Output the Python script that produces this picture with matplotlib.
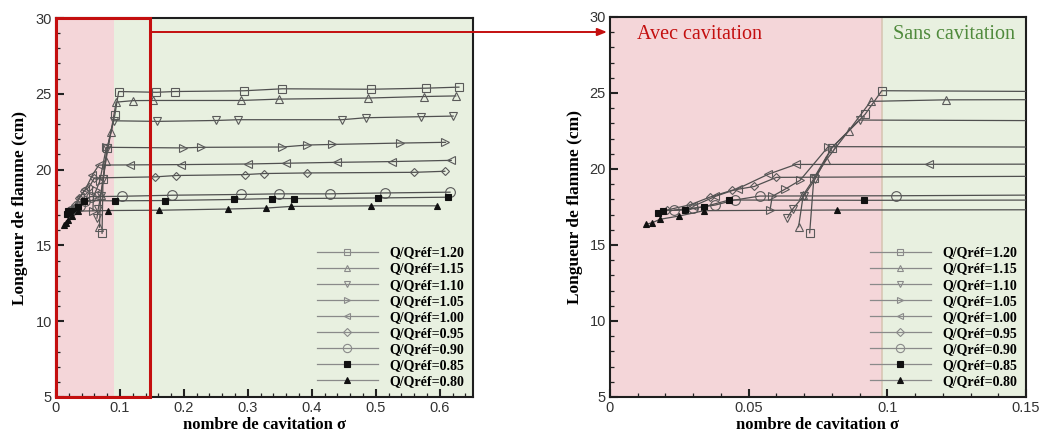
import matplotlib
matplotlib.use('Agg')
import matplotlib.pyplot as plt
from matplotlib.patches import Rectangle
from matplotlib.lines import Line2D
from matplotlib.ticker import MultipleLocator
from matplotlib.font_manager import FontProperties

# ---------------- data ----------------
labels = ['Q/Qréf=1.20', 'Q/Qréf=1.15', 'Q/Qréf=1.10', 'Q/Qréf=1.05', 'Q/Qréf=1.00',
          'Q/Qréf=0.95', 'Q/Qréf=0.90', 'Q/Qréf=0.85', 'Q/Qréf=0.80']

s120 = [0.072, 0.0735, 0.080, 0.092, 0.098, 0.157, 0.186, 0.294, 0.354, 0.492, 0.578, 0.630]
L120 = [15.8, 19.4, 21.4, 23.6, 25.15, 25.1, 25.15, 25.2, 25.33, 25.3, 25.37, 25.44]

s115 = [0.068, 0.0697, 0.078, 0.086, 0.094, 0.121, 0.152, 0.289, 0.349, 0.488, 0.575, 0.625]
L115 = [16.2, 18.3, 20.6, 22.5, 24.45, 24.55, 24.56, 24.56, 24.65, 24.72, 24.82, 24.86]

s110 = [0.064, 0.066, 0.070, 0.074, 0.080, 0.090, 0.158, 0.250, 0.285, 0.447, 0.484, 0.570, 0.621]
L110 = [16.8, 17.4, 18.25, 19.35, 21.4, 23.22, 23.18, 23.24, 23.29, 23.29, 23.42, 23.49, 23.53]

s105 = [0.0577, 0.0585, 0.063, 0.0685, 0.0787, 0.198, 0.227, 0.354, 0.392, 0.432, 0.5375, 0.609]
L105 = [17.3, 18.2, 18.66, 19.25, 21.47, 21.43, 21.47, 21.49, 21.62, 21.66, 21.75, 21.80]

s100 = [0.030, 0.038, 0.046, 0.057, 0.067, 0.115, 0.195, 0.3005, 0.360, 0.44, 0.526, 0.618]
L100 = [17.55, 18.2, 18.7, 19.65, 20.3, 20.31, 20.33, 20.37, 20.42, 20.48, 20.53, 20.61]

s095 = [0.0205, 0.029, 0.036, 0.044, 0.052, 0.060, 0.155, 0.1875, 0.295, 0.325, 0.393, 0.56, 0.608]
L095 = [17.3, 17.65, 18.15, 18.6, 18.85, 19.45, 19.52, 19.61, 19.67, 19.74, 19.78, 19.82, 19.89]

s090 = [0.0232, 0.030, 0.038, 0.045, 0.054, 0.103, 0.182, 0.2885, 0.348, 0.428, 0.5145, 0.616]
L090 = [17.3, 17.42, 17.63, 17.96, 18.22, 18.24, 18.31, 18.36, 18.40, 18.40, 18.46, 18.51]

s085 = [0.0174, 0.019, 0.027, 0.034, 0.043, 0.0917, 0.170, 0.278, 0.338, 0.372, 0.5036, 0.613]
L085 = [17.09, 17.26, 17.30, 17.52, 17.96, 17.94, 17.96, 18.03, 18.09, 18.09, 18.13, 18.18]

s080 = [0.013, 0.0153, 0.018, 0.025, 0.034, 0.0818, 0.161, 0.269, 0.328, 0.367, 0.493, 0.595]
L080 = [16.36, 16.47, 16.69, 16.91, 17.26, 17.30, 17.32, 17.40, 17.46, 17.57, 17.61, 17.61]

xs = [s120, s115, s110, s105, s100, s095, s090, s085, s080]
ys = [L120, L115, L110, L105, L100, L095, L090, L085, L080]

# ---------------- styles ----------------
markers = ['s', '^', 'v', '>', '<', 'D', 'o', 's', '^']
filled = [False] * 7 + [True, True]
msizes = [5.5, 5.5, 5.5, 5.5, 5.5, 4.5, 7.0, 5.0, 5.0]

pink = '#f4d6d9'
green = '#e8f0e0'
red = '#c40f0f'
line_col = '#505050'
serif = 'Liberation Serif'
sans = 'Liberation Sans'

W, H = 1040, 432
fig = plt.figure(figsize=(W / 100, H / 100), dpi=100)
ax1 = fig.add_axes([56 / W, 1 - 397 / H, 417 / W, 379 / H])
ax2 = fig.add_axes([610 / W, 1 - 397 / H, 416 / W, 380 / H])

for ax in (ax1, ax2):
    for s, L, m, f, ms in zip(xs, ys, markers, filled, msizes):
        ax.plot(s, L, color=line_col, lw=0.9, marker=m, ms=ms,
                mfc=('#111111' if f else 'none'),
                mec=('#111111' if f else '#5a5a5a'), mew=0.8, zorder=3)
    ax.set_ylim(5, 30)
    ax.yaxis.set_major_locator(MultipleLocator(5))
    ax.yaxis.set_minor_locator(MultipleLocator(1))
    ax.tick_params(which='major', direction='in', length=6, width=1.5,
                   top=False, right=False, labelsize=10.5, labelcolor='#333333',
                   color='#222222', pad=3)
    ax.tick_params(which='minor', direction='in', length=3, width=0.9,
                   top=False, right=False, color='#222222')
    for sp in ax.spines.values():
        sp.set_linewidth(1.5)
        sp.set_color('#1e1e1e')
    ax.set_ylabel('Longueur de flamme (cm)', family=serif, weight='bold', fontsize=12.5)
    ax.set_xlabel('nombre de cavitation σ', family=serif, weight='bold', fontsize=12)
    ax.xaxis.set_label_coords(0.5, -0.053)

# left panel
ax1.set_xlim(0, 0.652)
ax1.xaxis.set_minor_locator(MultipleLocator(0.02))
ax1.set_xticks([0, 0.1, 0.2, 0.3, 0.4, 0.5, 0.6])
ax1.set_xticklabels(['0', '0.1', '0.2', '0.3', '0.4', '0.5', '0.6'], family=sans)
ax1.set_yticks([5, 10, 15, 20, 25, 30])
ax1.set_yticklabels(['5', '10', '15', '20', '25', '30'], family=sans)
ax1.axvspan(0, 0.09, color=pink, zorder=0, lw=0)
ax1.axvspan(0.09, 0.652, color=green, zorder=0, lw=0)
ax1.yaxis.set_label_coords(-0.068, 0.5)
ax1.add_patch(Rectangle((0, 5), 0.147, 25, fill=False, ec=red, lw=2.2,
                        clip_on=False, zorder=6))

# right panel
ax2.set_xlim(0, 0.15)
ax2.set_xticks([0, 0.05, 0.1, 0.15])
ax2.set_xticklabels(['0', '0.05', '0.1', '0.15'], family=sans)
ax2.xaxis.set_minor_locator(MultipleLocator(0.01))
ax2.set_yticks([5, 10, 15, 20, 25, 30])
ax2.set_yticklabels(['5', '10', '15', '20', '25', '30'], family=sans)
ax2.axvspan(0, 0.098, color=pink, zorder=0, lw=0)
ax2.axvspan(0.098, 0.15, color=green, zorder=0, lw=0)
ax2.axvline(0.098, color='#d8c6b4', lw=1.2, zorder=0.5)
ax2.yaxis.set_label_coords(-0.066, 0.5)
ax2.text(0.0096, 28.82, 'Avec cavitation', color=red, family=serif, fontsize=14.5,
         va='center', ha='left', zorder=7)
ax2.text(0.1020, 28.82, 'Sans cavitation', color='#4f8a3c', family=serif, fontsize=14.5,
         va='center', ha='left', zorder=7)

# legends
handles = []
for m, f, ms in zip(markers, filled, msizes):
    handles.append(Line2D([], [], color='#8a8a8a', lw=0.9, marker=m, ms=ms * 0.85,
                          mfc=('#111111' if f else 'none'),
                          mec=('#111111' if f else '#8a8a8a'), mew=0.8))
lp = FontProperties(family=serif, weight='bold', size=10)
for ax in (ax1, ax2):
    ax.legend(handles, labels, loc='lower right', frameon=False, prop=lp,
              handlelength=4.4, handletextpad=0.8, labelspacing=0.22,
              borderaxespad=0.25, borderpad=0.4)

# red arrow linking the zoom box to the right panel
ax1.annotate('', xy=(607, H - 32), xycoords='figure pixels',
             xytext=(150, H - 32), textcoords='figure pixels',
             arrowprops=dict(arrowstyle='-|>,head_length=0.55,head_width=0.22',
                             color=red, lw=1.4, shrinkA=0, shrinkB=0),
             annotation_clip=False, zorder=8)

fig.savefig('out.png', dpi=100, facecolor='white')
